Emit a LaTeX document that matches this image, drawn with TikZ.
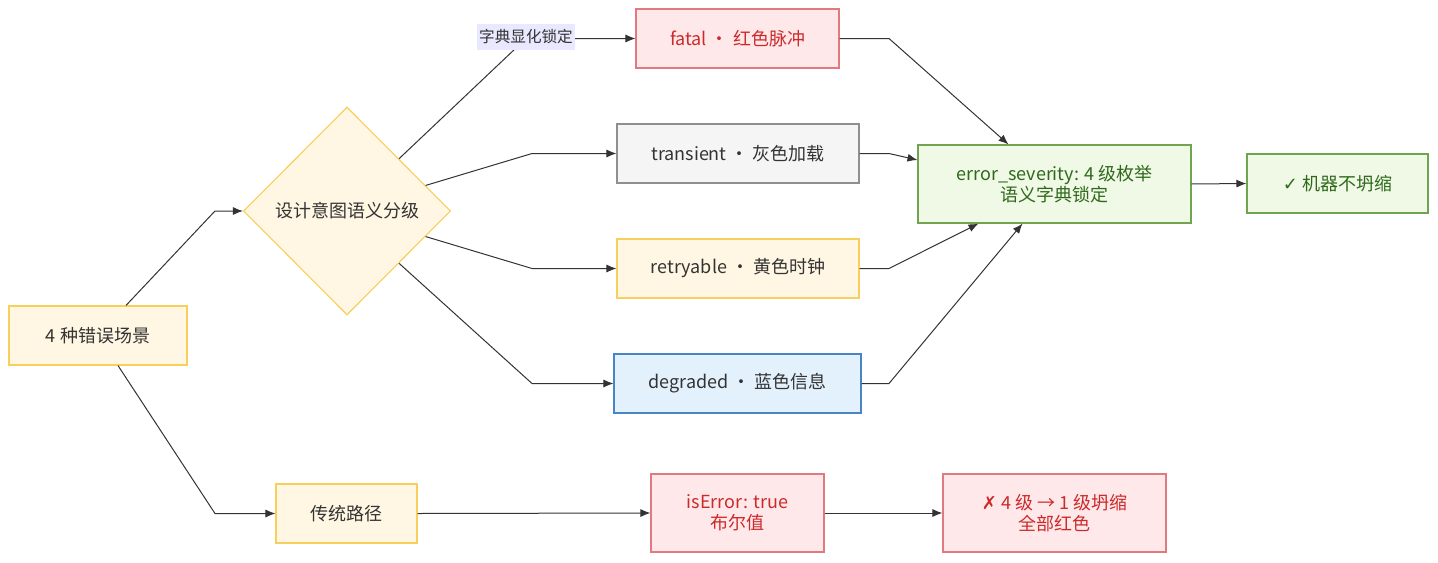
\documentclass[tikz,border=0pt]{standalone}
\usepackage{fontspec}
\setmainfont{Noto Sans CJK SC}
\newfontfamily\symfont{DejaVu Sans}
\usetikzlibrary{shapes.geometric,arrows.meta,calc}
\definecolor{inkgray}{HTML}{333333}
\definecolor{ylwfill}{HTML}{FFF7E3}
\definecolor{ylwline}{HTML}{F7CF5A}
\definecolor{redfill}{HTML}{FFE8EA}
\definecolor{redline}{HTML}{E07A80}
\definecolor{redtext}{HTML}{CC2A2A}
\definecolor{gryfill}{HTML}{F5F5F5}
\definecolor{gryline}{HTML}{8F8F8F}
\definecolor{blufill}{HTML}{E3F1FD}
\definecolor{bluline}{HTML}{4A84C8}
\definecolor{grnfill}{HTML}{F0F8E6}
\definecolor{grnline}{HTML}{6FA550}
\definecolor{grntext}{HTML}{2F6A1C}
\definecolor{tagfill}{HTML}{E8E8FF}
\tikzset{
  x=0.5pt, y=0.5pt,
  every node/.style={font=\fontsize{9}{10.5}\selectfont, text=inkgray, align=center},
  box/.style={draw, line width=0.55pt, inner sep=0pt, minimum height=29.5pt},
  ylw/.style={box, fill=ylwfill, draw=ylwline},
  red/.style={box, fill=redfill, draw=redline, text=redtext},
  gry/.style={box, fill=gryfill, draw=gryline},
  blu/.style={box, fill=blufill, draw=bluline},
  grn/.style={box, fill=grnfill, draw=grnline, text=grntext},
  decision/.style={diamond, draw=ylwline, fill=ylwfill, line width=0.55pt, inner sep=0pt,
    minimum width=103.5pt, minimum height=104pt},
  tag/.style={fill=tagfill, inner xsep=1pt, inner ysep=0pt, minimum height=13pt,
    font=\fontsize{7.8}{9}\selectfont},
  flow/.style={draw=inkgray, line width=0.5pt, -{Latex[length=5pt,width=4pt]}}
}
\begin{document}
\begin{tikzpicture}
  \useasboundingbox (0,0) rectangle (1438,-562);

  \node[ylw, minimum width=89pt] (start) at (98,-335.5) {4 种错误场景};
  \node[decision] (cls) at (347,-211) {};
  \node (clstext) at (cls) {设计意图语义分级};

  \node[red, minimum width=101.5pt] (fatal) at (737.5,-38.5) {fatal · 红色脉冲};
  \node[gry, minimum width=121pt] (trans) at (738,-153.5) {transient · 灰色加载};
  \node[ylw, minimum width=121pt] (retry) at (738,-268.5) {retryable · 黄色时钟};
  \node[blu, minimum width=123.5pt] (degr) at (737.5,-383.5) {degraded · 蓝色信息};

  \node[grn, minimum width=136.5pt, minimum height=39pt] (err) at (1054.5,-184) {error\_severity: 4 级枚举\\语义字典锁定};
  \node[grn, minimum width=90.5pt] (keep) at (1337.5,-183.5) {{\symfont ✓} 机器不坍缩};

  \node[ylw, minimum width=70.5pt] (trad) at (346.5,-513.5) {传统路径};
  \node[red, minimum width=86.5pt, minimum height=39pt] (bool) at (737.5,-513) {isError: true\\布尔值};
  \node[red, minimum width=111.5pt, minimum height=39pt] (lose) at (1054.5,-513) {{\symfont ✗} 4 级 → 1 级坍缩\\全部红色};

  \draw[flow] ($(start.north)+(28,0)$) -- (215,-211) -- (cls.west);
  \draw[flow] ($(start.south)+(20,0)$) -- (215,-513.5) -- (trad.west);

  \draw[flow] (cls.north east) -- (526,-38.5) -- (fatal.west);
  \node[tag] (dict) at (526,-37) {字典显化锁定};
  \draw[flow] (cls.18) -- (532,-153.5) -- (trans.west);
  \draw[flow] (cls.-18) -- (532,-268.5) -- (retry.west);
  \draw[flow] (cls.south east) -- (532,-383.5) -- (degr.west);

  \draw[flow] (fatal.east) -- (889,-38.5) -- ($(err.north)+(-46,0)$);
  \draw[flow] (trans.east) -- (889,-153.5) -- ($(err.west)+(0,24)$);
  \draw[flow] (retry.east) -- (889,-268.5) -- ($(err.south)+(-76,0)$);
  \draw[flow] (degr.east) -- (889,-383.5) -- ($(err.south)+(-32,0)$);
  \draw[flow] (err.east) -- (keep.west);

  \draw[flow] (trad.east) -- (bool.west);
  \draw[flow] (bool.east) -- (lose.west);
\end{tikzpicture}
\end{document}
